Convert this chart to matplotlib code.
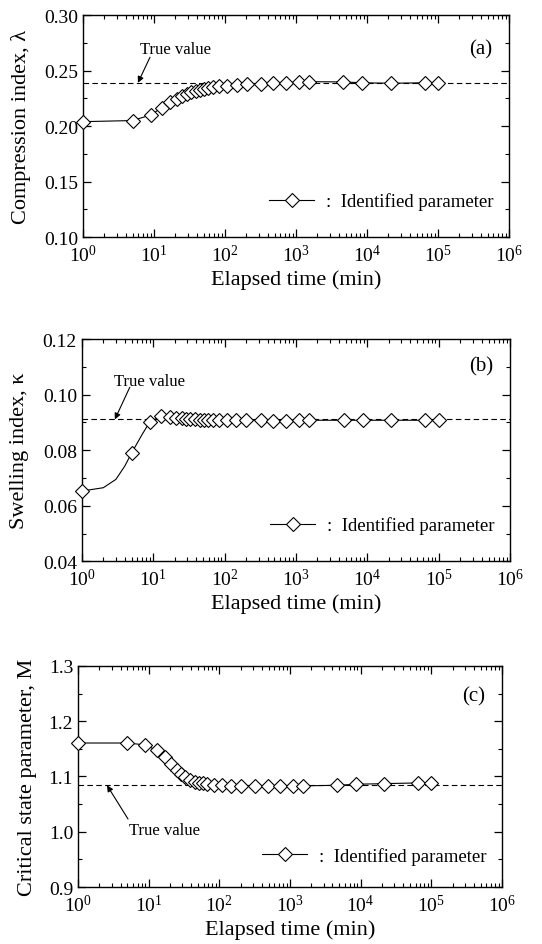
import matplotlib
matplotlib.use('Agg')
import matplotlib.pyplot as plt
from matplotlib.ticker import LogLocator, NullFormatter, FormatStrFormatter, MultipleLocator

# --- data ---
elapsed_time = [1, 5, 9, 13, 17, 21, 25, 29, 33, 39, 45, 51, 58, 68, 83, 108, 146, 202,
                321, 481, 721, 1121, 1521, 4641, 8641, 21601, 64801, 100801]

lam = [0.204, 0.205, 0.210, 0.2167, 0.2215, 0.2248, 0.227, 0.229, 0.2305, 0.2317, 0.2326,
       0.2338, 0.2344, 0.2353, 0.2358, 0.2365, 0.2371, 0.2376, 0.238, 0.2386, 0.239, 0.2398,
       0.240, 0.2398, 0.239, 0.2386, 0.239, 0.239]

kappa = [0.0653, 0.0791, 0.0903, 0.0923, 0.0921, 0.0917, 0.0915, 0.0913, 0.0912, 0.0911,
         0.0910, 0.0910, 0.0909, 0.0909, 0.0908, 0.0908, 0.0908, 0.0908, 0.0908, 0.0907,
         0.0907, 0.0908, 0.0908, 0.0908, 0.0908, 0.0908, 0.0908, 0.0908]
# extra (unmarked) points of the smooth curve in panel (b)
kappa_curve_t = [2, 3, 4, 7]
kappa_curve = [0.0665, 0.0695, 0.0743, 0.0857]

M = [1.1605, 1.1605, 1.157, 1.147, 1.136, 1.1226, 1.112, 1.1045, 1.0985, 1.0937, 1.0907,
     1.0889, 1.0877, 1.0865, 1.0853, 1.084, 1.0835, 1.0835, 1.083, 1.083, 1.083, 1.083,
     1.083, 1.084, 1.0859, 1.087, 1.0883, 1.0889]

true_lam = 0.239
true_kappa = 0.0911
true_M = 1.084

# --- style ---
plt.rcParams['font.family'] = ['Liberation Serif', 'DejaVu Serif']
plt.rcParams['mathtext.fontset'] = 'custom'
plt.rcParams['mathtext.rm'] = 'Liberation Serif'
plt.rcParams['mathtext.it'] = 'Liberation Serif:italic'
plt.rcParams['axes.linewidth'] = 1.0

fig = plt.figure(figsize=(5.42, 9.45), dpi=100)

panels = [
    dict(rect=[0.153, 0.748, 0.786, 0.235], y=lam, ylim=(0.10, 0.30), major=0.05, minor=0.025,
         fmt='%.2f', ylabel='Compression index, λ', true=true_lam, tag='(a)', tag_y=0.847,
         text_xy=(20, 0.269), tail=(8.8, 0.262), tip=(5.95, true_lam), leg_y=0.162,
         ylab_x=-0.122),
    dict(rect=[0.151, 0.405, 0.790, 0.235], y=kappa, ylim=(0.04, 0.12), major=0.02, minor=0.01,
         fmt='%.2f', ylabel='Swelling index, κ', true=true_kappa, tag='(b)', tag_y=0.878,
         text_xy=(9, 0.105), tail=(4.7, 0.1027), tip=(2.9, true_kappa), leg_y=0.162,
         ylab_x=-0.124),
    dict(rect=[0.144, 0.0603, 0.782, 0.234], y=M, ylim=(0.9, 1.3), major=0.1, minor=0.05,
         fmt='%.1f', ylabel='Critical state parameter, M', true=true_M, tag='(c)', tag_y=0.864,
         text_xy=(16.5, 1.003), tail=(5.1, 1.023), tip=(2.57, true_M), leg_y=0.14,
         ylab_x=-0.098),
]

for i, p in enumerate(panels):
    ax = fig.add_axes(p['rect'])

    # true value (dashed)
    ax.axhline(p['true'], color='black', linestyle=(0, (5, 3)), linewidth=0.8)

    # connecting line (panel b has a smooth start)
    if i == 1:
        pts = sorted(list(zip(elapsed_time, p['y'])) + list(zip(kappa_curve_t, kappa_curve)))
        ax.plot([a for a, b in pts], [b for a, b in pts], color='black', linewidth=0.8)
    else:
        ax.plot(elapsed_time, p['y'], color='black', linewidth=0.8)

    ax.plot(elapsed_time, p['y'], linestyle='none', marker='D', markersize=7,
            markerfacecolor='white', markeredgecolor='black', markeredgewidth=0.8,
            clip_on=False, zorder=3)

    # legend handle
    ax.plot([], [], color='black', linewidth=0.8, marker='D', markersize=7,
            markerfacecolor='white', markeredgecolor='black', markeredgewidth=0.8,
            label=':  Identified parameter')
    ax.legend(loc='center right', bbox_to_anchor=(0.963, p['leg_y']), frameon=False,
              fontsize=13.5, handlelength=2.4, handletextpad=0.6, borderpad=0,
              borderaxespad=0, numpoints=1)

    # True value annotation
    ax.text(p['text_xy'][0], p['text_xy'][1], 'True value', fontsize=12,
            ha='center', va='center')
    ax.annotate('', xy=p['tip'], xytext=p['tail'],
                arrowprops=dict(arrowstyle='-|>', color='black', lw=0.8,
                                mutation_scale=9, shrinkA=0, shrinkB=0))

    ax.text(0.96, p['tag_y'], p['tag'], transform=ax.transAxes, fontsize=15,
            ha='right', va='center')

    # axes
    ax.set_xscale('log')
    ax.set_xlim(1, 1e6)
    ax.set_ylim(*p['ylim'])
    ax.xaxis.set_major_locator(LogLocator(base=10, numticks=10))
    ax.xaxis.set_minor_locator(LogLocator(base=10, subs=range(2, 10), numticks=20))
    ax.xaxis.set_minor_formatter(NullFormatter())
    ax.yaxis.set_major_locator(MultipleLocator(p['major']))
    ax.yaxis.set_minor_locator(MultipleLocator(p['minor']))
    ax.yaxis.set_major_formatter(FormatStrFormatter(p['fmt']))
    ax.tick_params(which='both', direction='in', top=True, right=True, labelsize=14)
    ax.tick_params(which='major', length=6, width=0.9)
    ax.tick_params(which='minor', length=3, width=0.8)
    ax.tick_params(axis='x', pad=5)

    ax.set_xlabel('Elapsed time (min)', fontsize=16, labelpad=3)
    ax.set_ylabel(p['ylabel'], fontsize=16)
    ax.yaxis.set_label_coords(p['ylab_x'], 0.5)

plt.savefig('out.png', dpi=100)
